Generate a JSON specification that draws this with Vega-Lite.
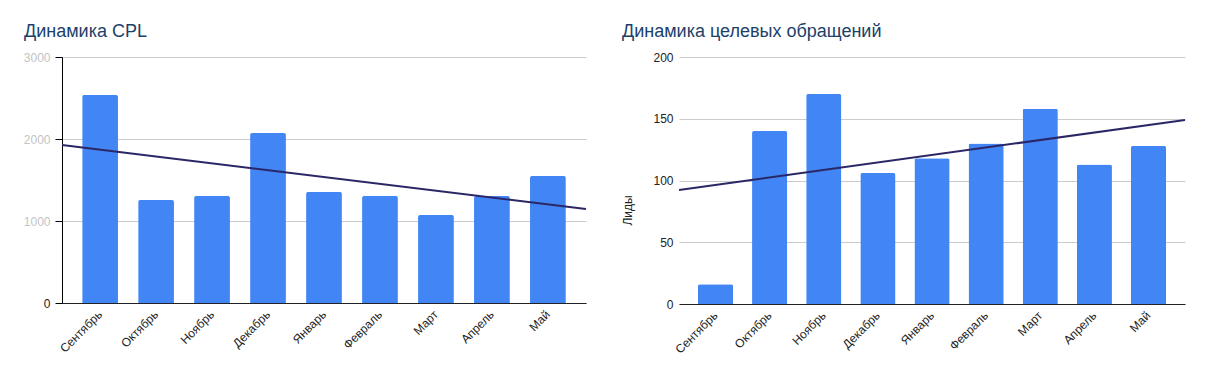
{
  "$schema": "https://vega.github.io/schema/vega-lite/v6.json",
  "padding": {"left": 23, "top": 23, "right": 22, "bottom": 10},
  "bounds": "flush",
  "spacing": 93,
  "background": "white",
  "config": {
    "font": "Liberation Sans",
    "view": {"stroke": null},
    "axis": {"labelFont": "Liberation Sans", "labelFontSize": 12, "labelColor": "#222222", "titleFont": "Liberation Sans"},
    "axisX": {"labelAngle": -45, "labelAlign": "right", "labelBaseline": "middle", "labelPadding": 9, "ticks": false, "domainColor": "#222222", "title": null},
    "title": {"font": "Liberation Sans", "fontSize": 18, "fontWeight": "normal", "color": "#1c4169", "anchor": "start", "frame": "group"}
  },
  "datasets": {
    "cpl": [
      {"month": "Сентябрь", "cpl": 2537},
      {"month": "Октябрь", "cpl": 1256},
      {"month": "Ноябрь", "cpl": 1305},
      {"month": "Декабрь", "cpl": 2073},
      {"month": "Январь", "cpl": 1354},
      {"month": "Февраль", "cpl": 1305},
      {"month": "Март", "cpl": 1073},
      {"month": "Апрель", "cpl": 1305},
      {"month": "Май", "cpl": 1549}
    ],
    "cplTrend": [
      {"t": 0, "v": 1927},
      {"t": 1, "v": 1146}
    ],
    "leads": [
      {"month": "Сентябрь", "leads": 16},
      {"month": "Октябрь", "leads": 140},
      {"month": "Ноябрь", "leads": 170},
      {"month": "Декабрь", "leads": 106},
      {"month": "Январь", "leads": 118},
      {"month": "Февраль", "leads": 130},
      {"month": "Март", "leads": 158},
      {"month": "Апрель", "leads": 113},
      {"month": "Май", "leads": 128}
    ],
    "leadsTrend": [
      {"t": 0, "v": 92.3},
      {"t": 1, "v": 149}
    ]
  },
  "hconcat": [
    {
      "width": 524,
      "height": 246,
      "title": {"text": "Динамика CPL", "dx": -38, "offset": 10},
      "layer": [
        {
          "data": {"name": "cpl"},
          "mark": {"type": "bar", "color": "#4285f4", "cornerRadiusTopLeft": 2, "cornerRadiusTopRight": 2},
          "encoding": {
            "x": {
              "field": "month", "type": "nominal", "sort": null,
              "scale": {"paddingInner": 0.36, "paddingOuter": 0.36}
            },
            "y": {
              "field": "cpl", "type": "quantitative",
              "scale": {"domain": [0, 3000]},
              "axis": {
                "title": null, "values": [0, 1000, 2000, 3000], "format": "d",
                "domainColor": "#000000", "tickColor": "#000000", "tickSize": 7,
                "gridColor": "#cccccc", "labelPadding": 5,
                "labelColor": {"condition": {"test": "datum.value === 0", "value": "#222222"}, "value": "#c4c4c4"}
              }
            }
          }
        },
        {
          "data": {"name": "cplTrend"},
          "mark": {"type": "line", "color": "#2b2766", "strokeWidth": 2},
          "encoding": {
            "x": {"field": "t", "type": "quantitative", "scale": {"domain": [0, 1]}, "axis": null},
            "y": {"field": "v", "type": "quantitative"}
          }
        }
      ],
      "resolve": {"scale": {"x": "independent"}}
    },
    {
      "width": 506,
      "height": 247,
      "title": {"text": "Динамика целевых обращений", "dx": -57, "offset": 10},
      "layer": [
        {
          "data": {"name": "leads"},
          "mark": {"type": "bar", "color": "#4285f4", "cornerRadiusTopLeft": 2, "cornerRadiusTopRight": 2},
          "encoding": {
            "x": {
              "field": "month", "type": "nominal", "sort": null,
              "scale": {"paddingInner": 0.35, "paddingOuter": 0.35}
            },
            "y": {
              "field": "leads", "type": "quantitative",
              "scale": {"domain": [0, 200]},
              "axis": {
                "title": "Лиды", "titleFontSize": 12, "titleFontWeight": "normal", "titleColor": "#222222", "titlePadding": 18, "titleY": 153,
                "values": [0, 50, 100, 150, 200],
                "domain": false, "ticks": false, "gridColor": "#cccccc", "labelPadding": 6
              }
            }
          }
        },
        {
          "data": {"name": "leadsTrend"},
          "mark": {"type": "line", "color": "#2b2766", "strokeWidth": 2},
          "encoding": {
            "x": {"field": "t", "type": "quantitative", "scale": {"domain": [0, 1]}, "axis": null},
            "y": {"field": "v", "type": "quantitative"}
          }
        }
      ],
      "resolve": {"scale": {"x": "independent"}}
    }
  ]
}
